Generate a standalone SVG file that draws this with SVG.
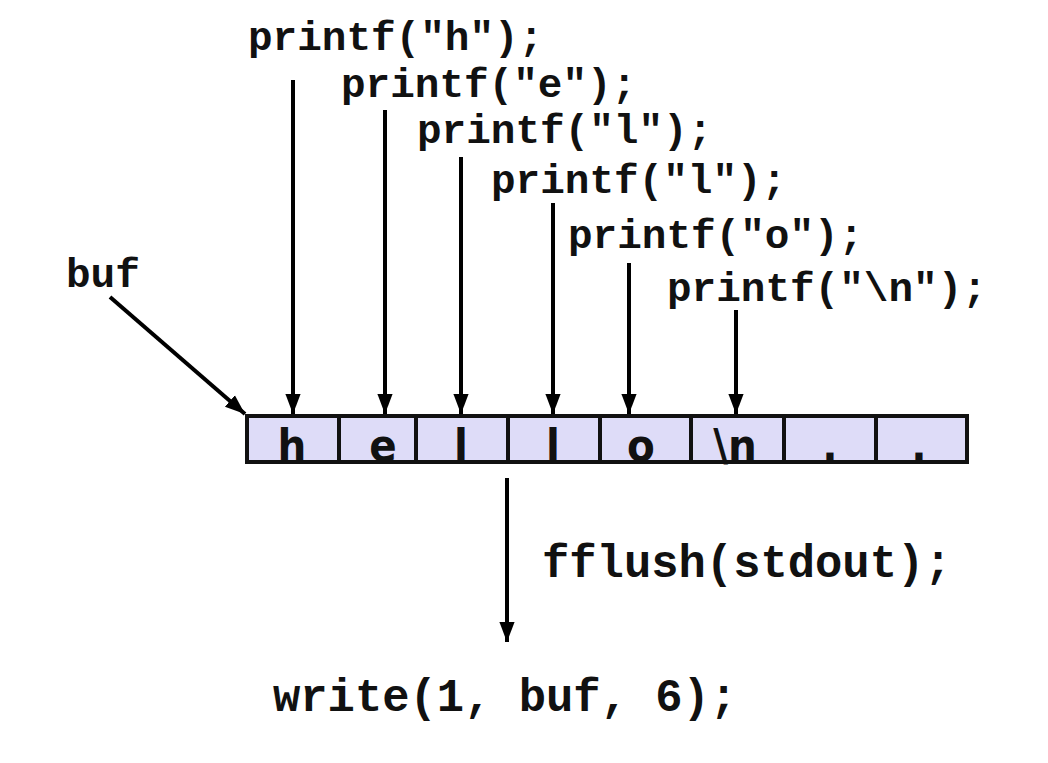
<svg xmlns="http://www.w3.org/2000/svg" width="1048" height="763" viewBox="0 0 1048 763">
<defs>
<marker id="ah" viewBox="0 0 10 10" refX="10" refY="5" markerWidth="5" markerHeight="5" orient="auto" markerUnits="strokeWidth">
<path d="M0,1.2 L10,5 L0,8.8 z" fill="#000"/>
</marker>
<style>
.code{font-family:"Liberation Mono","DejaVu Sans Mono",monospace;font-weight:bold;fill:#111;}
.p{font-size:41px;}
.big{font-size:45.5px;}
.cell{fill:#dedcf8;stroke:#111;stroke-width:4;}
.ch{font-family:"DejaVu Sans Condensed","DejaVu Sans",sans-serif;font-stretch:condensed;font-weight:bold;font-size:45px;fill:#111;text-anchor:middle;}
.arr{stroke:#000;stroke-width:4;fill:none;marker-end:url(#ah);}
</style>
</defs>
<rect width="1048" height="763" fill="#fff"/>
<g id="labels">
<text class="code p" x="248" y="50">printf("h");</text>
<text class="code p" x="341" y="97">printf("e");</text>
<text class="code p" x="417" y="143">printf("l");</text>
<text class="code p" x="491" y="193">printf("l");</text>
<text class="code p" x="568" y="248">printf("o");</text>
<text class="code p" x="667" y="301">printf("\n");</text>
<text class="code p" x="66" y="287">buf</text>
<text class="code big" x="542" y="577">fflush(stdout);</text>
<text class="code big" x="273" y="711">write(1, buf, 6);</text>
</g>
<g id="buffer">
<rect class="cell" x="247" y="416" width="92" height="46"/>
<rect class="cell" x="339" y="416" width="77" height="46"/>
<rect class="cell" x="416" y="416" width="92" height="46"/>
<rect class="cell" x="508" y="416" width="92" height="46"/>
<rect class="cell" x="600" y="416" width="91" height="46"/>
<rect class="cell" x="691" y="416" width="93" height="46"/>
<rect class="cell" x="784" y="416" width="92" height="46"/>
<rect class="cell" x="876" y="416" width="91" height="46"/>
<text class="ch" x="292" y="461">h</text>
<text class="ch" x="383" y="461">e</text>
<text class="ch" x="461" y="461">l</text>
<text class="ch" x="553" y="461">l</text>
<text class="ch" x="641" y="461">o</text>
<text class="ch" x="735" y="461">\n</text>
<text class="ch" x="830" y="461">.</text>
<text class="ch" x="919" y="461">.</text>
</g>
<g id="connectors">
<line class="arr" x1="293" y1="80" x2="293" y2="414"/>
<line class="arr" x1="385" y1="110" x2="385" y2="414"/>
<line class="arr" x1="461" y1="157" x2="461" y2="414"/>
<line class="arr" x1="553" y1="203" x2="553" y2="414"/>
<line class="arr" x1="629" y1="263" x2="629" y2="414"/>
<line class="arr" x1="736" y1="310" x2="736" y2="414"/>
<line class="arr" x1="110" y1="297" x2="245" y2="414"/>
<line class="arr" x1="507" y1="478" x2="507" y2="642"/>
</g>
</svg>
